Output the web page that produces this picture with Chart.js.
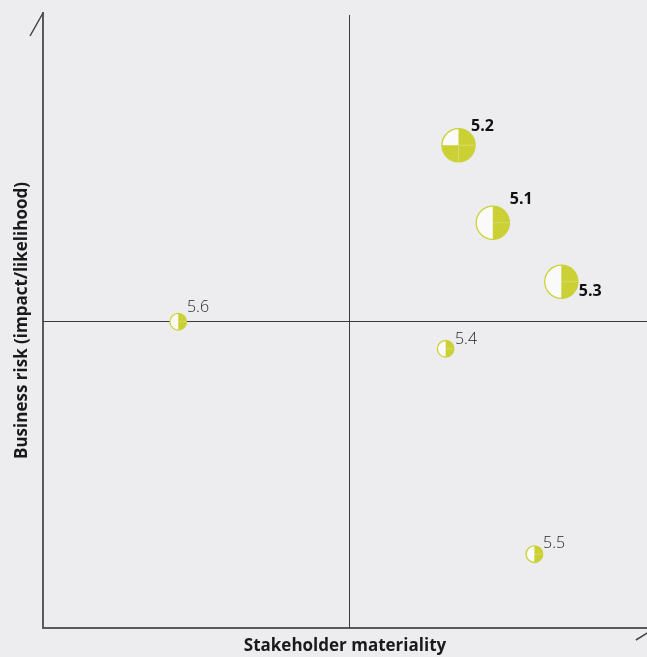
<!DOCTYPE html>
<html lang="en">
<head>
  <meta charset="UTF-8">
  <title>Materiality matrix</title>
  <script src="https://cdn.jsdelivr.net/npm/chart.js"></script>
  <style>
    html, body {
      margin: 0;
      padding: 0;
      background: #ededf0;
      overflow: hidden;
    }
  </style>
</head>
<body>

  <canvas id="matrix" width="647" height="657"></canvas>

  <script>
    // Topics and their position in the matrix
    const topics = ['5.1', '5.2', '5.3', '5.4', '5.5', '5.6'];
    const stakeholderMateriality = [7.35, 6.79, 8.47, 6.58, 8.03, 2.21];
    const businessRisk = [6.59, 7.85, 5.63, 4.54, 1.20, 4.98];
    // 2 = big bubble, 1 = small bubble
    const importance = [2, 2, 2, 1, 1, 1];
    // share of the bubble that is filled
    const progress = [0.5, 0.75, 0.5, 0.5, 0.5, 0.5];

    const axisMin = 0;
    const axisMax = 10;
    const axisMid = 5;
    // the x axis arrow tip sits just past the right edge of the picture
    const xVisibleMax = 9.87;

    // styling
    const lime = '#cbd135';
    const radiusUnit = 8.3;
    const labelOffsets = [[17, -23], [12.5, -18.5], [17.5, 10], [9.3, -9], [8.6, -11], [8.7, -14.5]];

    const points = topics.map((t, i) => ({
      x: stakeholderMateriality[i],
      y: businessRisk[i],
      r: importance[i] * radiusUnit
    }));

    // quadrant lines and the little arrow strokes
    const quadrantPlugin = {
      id: 'quadrants',
      beforeDatasetsDraw(chart) {
        const { ctx, chartArea: a, scales: { x, y } } = chart;
        const mx = Math.round(x.getPixelForValue(axisMid)) + 0.5;
        const my = Math.round(y.getPixelForValue(axisMid)) + 0.5;
        const tipX = x.getPixelForValue(axisMax);
        ctx.save();
        ctx.strokeStyle = '#3a3a3a';
        ctx.lineWidth = 1;
        ctx.beginPath();
        ctx.moveTo(mx, a.top + 2);
        ctx.lineTo(mx, a.bottom);
        ctx.moveTo(a.left, my);
        ctx.lineTo(a.right, my);
        ctx.stroke();

        ctx.strokeStyle = '#444';
        ctx.lineWidth = 1.5;
        ctx.beginPath();
        ctx.moveTo(a.left, a.top);
        ctx.lineTo(a.left - 13, a.top + 23);
        ctx.moveTo(tipX, a.bottom);
        ctx.lineTo(tipX - 19, a.bottom + 12);
        ctx.stroke();
        ctx.restore();
      }
    };

    // draw each bubble as a partly filled pie, then its label
    const pieBubblePlugin = {
      id: 'pieBubbles',
      afterDatasetsDraw(chart) {
        const ctx = chart.ctx;
        chart.getDatasetMeta(0).data.forEach((pt, i) => {
          const { x, y } = pt;
          const r = pt.options.radius;
          const start = -Math.PI / 2;
          ctx.save();

          ctx.beginPath();
          ctx.arc(x, y, r, 0, Math.PI * 2);
          ctx.fillStyle = '#fafafa';
          ctx.fill();

          ctx.beginPath();
          ctx.moveTo(x, y);
          ctx.arc(x, y, r, start, start + progress[i] * Math.PI * 2);
          ctx.closePath();
          ctx.fillStyle = lime;
          ctx.fill();

          // faint seams between the filled quarters
          ctx.strokeStyle = 'rgba(255,255,255,0.3)';
          ctx.lineWidth = 0.8;
          for (let k = 1; k < Math.round(progress[i] * 4); k++) {
            const ang = start + k * Math.PI / 2;
            ctx.beginPath();
            ctx.moveTo(x, y);
            ctx.lineTo(x + Math.cos(ang) * r, y + Math.sin(ang) * r);
            ctx.stroke();
          }

          ctx.beginPath();
          ctx.arc(x, y, r, 0, Math.PI * 2);
          ctx.strokeStyle = lime;
          ctx.lineWidth = 1.3;
          ctx.stroke();

          const big = importance[i] > 1;
          ctx.font = (big ? 'bold ' : '300 ') + '16px "Open Sans"';
          ctx.fillStyle = big ? '#111' : '#262626';
          ctx.textAlign = 'left';
          ctx.textBaseline = 'middle';
          ctx.fillText(topics[i], x + labelOffsets[i][0], y + labelOffsets[i][1]);
          ctx.restore();
        });
      }
    };

    const ctx = document.getElementById('matrix').getContext('2d');
    new Chart(ctx, {
      type: 'bubble',
      data: {
        datasets: [{
          label: 'Topics',
          data: points,
          backgroundColor: 'rgba(0,0,0,0)',
          borderColor: 'rgba(0,0,0,0)',
          clip: false
        }]
      },
      options: {
        responsive: false,
        animation: false,
        events: [],
        layout: { autoPadding: false, padding: { top: 13, right: 0, left: 0, bottom: 0 } },
        plugins: {
          legend: { display: false },
          tooltip: { enabled: false }
        },
        scales: {
          x: {
            min: axisMin,
            max: xVisibleMax,
            grid: { display: false },
            ticks: { display: false },
            border: { display: true, color: '#5a5a5a', width: 2 },
            title: {
              display: true,
              text: 'Stakeholder materiality',
              color: '#1a1a1a',
              font: { family: '"Open Sans"', size: 17, weight: 'bold' },
              padding: { top: 0, bottom: 1 }
            },
            afterFit(s) { s.height = 29; }
          },
          y: {
            min: axisMin,
            max: axisMax,
            grid: { display: false },
            ticks: { display: false },
            border: { display: true, color: '#5a5a5a', width: 2 },
            title: {
              display: true,
              text: 'Business risk (impact/likelihood)',
              color: '#1a1a1a',
              font: { family: '"Open Sans"', size: 17, weight: 'bold' },
              padding: { top: 12, bottom: 0 }
            },
            afterFit(s) { s.width = 43; }
          }
        }
      },
      plugins: [quadrantPlugin, pieBubblePlugin]
    });
  </script>

</body>
</html>
